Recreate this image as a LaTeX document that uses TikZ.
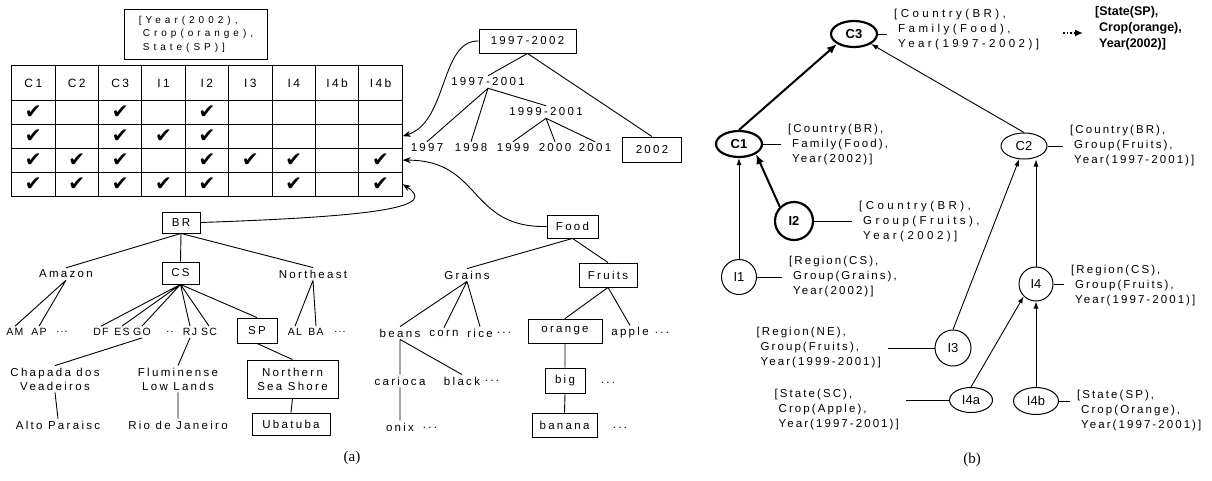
\documentclass[tikz,border=0pt]{standalone}
\usepackage{fontspec}
\setmainfont{Liberation Serif}
\newfontfamily\lblfont{Liberation Sans}[LetterSpace=20]
\newfontfamily\leaffont{Liberation Sans}[LetterSpace=12]
\newfontfamily\labfont{Liberation Sans}[LetterSpace=18]
\newfontfamily\widefont{Liberation Sans}[LetterSpace=30]
\newfontfamily\qryfont{Liberation Sans}[LetterSpace=40]
\newfontfamily\nodefont{Liberation Sans}
\newfontfamily\chkfont{DejaVu Sans}
\usetikzlibrary{matrix, shapes.geometric, arrows.meta}
\newcommand{\chk}{{\chkfont\fontsize{20}{20}\selectfont ✔}}
\newcommand{\indt}{\hspace*{4pt}}
\tikzset{
  lf/.style={font=\lblfont\fontsize{11.5}{14}\selectfont, inner sep=2pt},
  leaf/.style={font=\leaffont\fontsize{10.5}{12}\selectfont, inner sep=2pt},
  tbox/.style={lf, draw, line width=0.9pt, inner xsep=5pt, minimum height=22},
  cell/.style={draw, anchor=center, line width=0.9pt, minimum width=43.4, minimum height=24, inner sep=0pt, font=\lblfont\fontsize{12}{12}\selectfont},
  branch/.style={line width=0.9pt},
  curv/.style={line width=0.9pt, -{Stealth[length=8pt, width=6pt]}},
  ell/.style={draw, ellipse, line width=1pt, minimum width=46, minimum height=26, inner sep=0pt, font=\nodefont\fontsize{13}{13}\selectfont},
  cir/.style={draw, circle, line width=1pt, minimum size=35, inner sep=0pt, font=\nodefont\fontsize{13}{13}\selectfont},
  thk/.style={line width=2.2pt, font=\nodefont\bfseries\fontsize{13}{13}\selectfont},
  lab/.style={font=\labfont\fontsize{11.5}{15}\selectfont, align=left, inner xsep=7pt, inner ysep=1pt},
  wide/.style={font=\widefont\fontsize{11.5}{15}\selectfont},
  tie/.style={line width=0.9pt},
  up/.style={line width=0.9pt, -{Latex[length=7pt, width=5pt]}},
  upthk/.style={line width=2pt, -{Latex[length=10pt, width=8pt]}}
}
\begin{document}
\begin{tikzpicture}[x=1pt, y=-1pt]
\useasboundingbox (0,0) rectangle (1212,480);
\fill[white] (0,0) rectangle (1212,480);

\node[draw, line width=0.9pt, align=left, minimum width=143, minimum height=50, font=\qryfont\fontsize{10}{13.5}\selectfont] (qry) at (196,34) {[Year(2002),\\\indt Crop(orange),\\\indt State(SP)]};
\matrix (tab) [matrix of nodes, nodes in empty cells, anchor=north west, inner sep=0pt, column sep=-0.9pt, row sep=-0.9pt, nodes={cell}, row 1/.style={nodes={minimum height=34.5}}] at (11,65) {
  C1 & C2 & C3 & I1 & I2 & I3 & I4 & I4b & I4b \\
  \chk & & \chk & & \chk & & & & \\
  \chk & & \chk & \chk & \chk & & & & \\
  \chk & \chk & \chk & & \chk & \chk & \chk & & \chk \\
  \chk & \chk & \chk & \chk & \chk & & \chk & & \chk \\
};

\node[tbox, minimum width=97, minimum height=24] (t9702) at (527.5,41) {1997-2002};
\node[lf] (t9701) at (488,82) {1997-2001};
\node[lf] (t9901) at (546,112) {1999-2001};
\node[lf] (t97) at (427,148) {1997};
\node[lf] (t98) at (471,148) {1998};
\node[lf] (t99) at (513,148) {1999};
\node[lf] (t00) at (555,148) {2000};
\node[lf] (t01) at (595,148) {2001};
\node[tbox, minimum width=59, minimum height=25] (t02) at (652,149.5) {2002};
\draw[branch] (t9702.south) -- (t9701.north) (t9702.south) -- (t02.north)
  (t9701.south) -- (t97.north) (t9701.south) -- (t98.north) (t9701.south) -- (t9901.north)
  (t9901.south) -- (t99.north) (t9901.south) -- (t00.north) (t9901.south) -- (t01.north);

\node[tbox, minimum width=38, minimum height=21] (br) at (181,222.5) {BR};
\node[lf] (amazon) at (66,274) {Amazon};
\node[tbox, minimum width=37] (cs) at (180.5,273) {CS};
\node[lf] (ne) at (313,274) {Northeast};
\node[leaf] (am) at (15,332) {AM};
\node[leaf] (ap) at (39,332) {AP};
\node[leaf] (dotsa) at (62,332) {...};
\node[leaf] (df) at (101,332) {DF};
\node[leaf] (es) at (122,332) {ES};
\node[leaf] (go) at (142,332) {GO};
\node[leaf] (dotsb) at (170,332) {..};
\node[leaf] (rj) at (190,332) {RJ};
\node[leaf] (sc) at (209,332) {SC};
\node[tbox, minimum width=40, minimum height=25] (sp) at (257,330.5) {SP};
\node[leaf] (al) at (295,332) {AL};
\node[leaf] (ba) at (316,332) {BA};
\node[leaf] (dotsc) at (340,332) {...};
\node[lf, align=center] (chapada) at (55,379) {Chapada dos\\Veadeiros};
\node[lf] (alto) at (58,425) {Alto Paraisc};
\node[lf, align=center] (flum) at (178,379) {Fluminense\\Low Lands};
\node[lf] (rio) at (178,425) {Rio de Janeiro};
\node[tbox, align=center, minimum width=91, minimum height=38] (nss) at (292.5,379) {Northern\\Sea Shore};
\node[tbox, minimum width=78] (uba) at (291,424) {Ubatuba};
\draw[branch] (br.south) -- (amazon.north) (br.south) -- (cs.north) (br.south) -- (ne.north)
  (amazon.south) -- (am.north) (amazon.south) -- (ap.north)
  (cs.south) -- (df.north) (cs.south) -- (es.north) (cs.south) -- (go.north)
  (cs.south) -- (rj.north) (cs.south) -- (sc.north) (cs.south) -- (sp.north)
  (ne.south) -- (al.north) (ne.south) -- (ba.north)
  (go.south) -- (chapada.north) (rj.south) -- (flum.north) (sp.south) -- (nss.north)
  (chapada.south) -- (alto.north) (flum.south) -- (rio.north) (nss.south) -- (uba.north);

\node[tbox, minimum width=51, minimum height=23] (food) at (572.5,226.5) {Food};
\node[lf] (grains) at (467,275) {Grains};
\node[tbox, minimum width=58, minimum height=24] (fruits) at (608,275) {Fruits};
\node[lf] (beans) at (400,333) {beans};
\node[lf] (corn) at (444,333) {corn};
\node[lf] (rice) at (480,333) {rice};
\node[lf] (dotsd) at (504,333) {...};
\node[tbox, minimum width=74, minimum height=24] (orange) at (565,331) {orange};
\node[lf] (apple) at (630,333) {apple};
\node[lf] (dotse) at (662,333) {...};
\node[lf] (carioca) at (400,381) {carioca};
\node[lf] (black) at (462,381) {black};
\node[lf] (dotsf) at (492,381) {...};
\node[lf] (onix) at (400,427) {onix};
\node[lf] (dotsg) at (430,428) {...};
\node[tbox, minimum width=40, minimum height=25] (big) at (565,380.5) {big};
\node[lf] (dotsh) at (608,383) {...};
\node[tbox, minimum width=65, minimum height=24] (banana) at (564.5,425) {banana};
\node[lf] (dotsi) at (620,428) {...};
\draw[branch] (food.south) -- (grains.north) (food.south) -- (fruits.north)
  (grains.south) -- (beans.north) (grains.south) -- (corn.north) (grains.south) -- (rice.north)
  (fruits.south) -- (orange.north) (fruits.south) -- (apple.north)
  (beans.south) -- (carioca.north) (beans.south) -- (black.north) (carioca.south) -- (onix.north)
  (orange.south) -- (big.north) (big.south) -- (banana.north);

\draw[curv] (t9702.west) .. controls (440,40) and (448,122) .. (tab-3-9.east);
\draw[curv] (food.west) .. controls (468,228) and (482,160) .. (tab-4-9.east);
\draw[curv] (br.east) .. controls (390,216) and (436,206) .. (tab-5-9.east);
\node[font=\fontsize{15}{15}\selectfont] (capa) at (352,458) {(a)};

\node[ell, thk] (c3) at (854,34) {C3};
\node[ell, thk] (c1) at (739,144) {C1};
\node[ell] (c2) at (1024,146) {C2};
\node[cir, thk, minimum size=38] (i2) at (794,221) {I2};
\node[cir] (i1) at (739,277) {I1};
\node[cir, minimum size=34] (i4) at (1036,284) {I4};
\node[cir, minimum size=36] (i3) at (953,348) {I3};
\node[ell, minimum width=43, minimum height=25] (i4a) at (971,400) {I4a};
\node[ell, minimum width=45, minimum height=27] (i4b) at (1036,401) {I4b};
\node[lab, wide, anchor=west] (lc3) at (887,30) {[Country(BR),\\\indt Family(Food),\\\indt Year(1997-2002)]};
\node[lab, anchor=west, font=\nodefont\bfseries\fontsize{12.5}{16}\selectfont] (res) at (1088,28) {[State(SP),\\\indt Crop(orange),\\\indt Year(2002)]};
\node[lab, anchor=west] (lc1) at (781,145) {[Country(BR),\\\indt Family(Food),\\\indt Year(2002)]};
\node[lab, anchor=west] (lc2) at (1063,146) {[Country(BR),\\\indt Group(Fruits),\\\indt Year(1997-2001)]};
\node[lab, wide, anchor=west] (li2) at (852,222) {[Country(BR),\\\indt Group(Fruits),\\\indt Year(2002)]};
\node[lab, anchor=west] (li1) at (782,277) {[Region(CS),\\\indt Group(Grains),\\\indt Year(2002)]};
\node[lab, anchor=west] (li4) at (1064,286) {[Region(CS),\\\indt Group(Fruits),\\\indt Year(1997-2001)]};
\node[lab, anchor=east] (li3) at (888,348) {[Region(NE),\\\indt Group(Fruits),\\\indt Year(1999-2001)]};
\node[lab, anchor=east] (li4a) at (906,410) {[State(SC),\\\indt Crop(Apple),\\\indt Year(1997-2001)]};
\node[lab, anchor=west] (li4b) at (1070,411) {[State(SP),\\\indt Crop(Orange),\\\indt Year(1997-2001)]};
\draw[tie] (c3.east) -- (c3.east -| lc3.west) (c1.east) -- (c1.east -| lc1.west)
  (c2.east) -- (c2.east -| lc2.west) (i2.east) -- (i2.east -| li2.west)
  (i1.east) -- (i1.east -| li1.west) (i4.east) -- (i4.east -| li4.west)
  (i3.west) -- (i3.west -| li3.east) (i4a.west) -- (i4a.west -| li4a.east)
  (i4b.east) -- (i4b.east -| li4b.west);
\coordinate (dotst) at (1063,33);
\draw[line width=1.6pt, dotted, -{Latex[length=8pt, width=7pt]}, shorten >=5pt] (dotst) -- (dotst -| res.west);
\draw[upthk] (c1.north) -- (c3.south west);
\draw[up] (c2.north) -- (c3.south east);
\draw[upthk] (i2.north west) -- (c1.south east);
\draw[up] (i1.north) -- (c1.south);
\draw[up] (i3.north) -- (c2.250);
\draw[up] (i4.north) -- (i4.north |- c2.south);
\draw[up] (i4a.north) -- (i4.south west);
\draw[up] (i4b.north) -- (i4.south);
\node[font=\fontsize{15}{15}\selectfont] (capb) at (972,460) {(b)};
\end{tikzpicture}
\end{document}
